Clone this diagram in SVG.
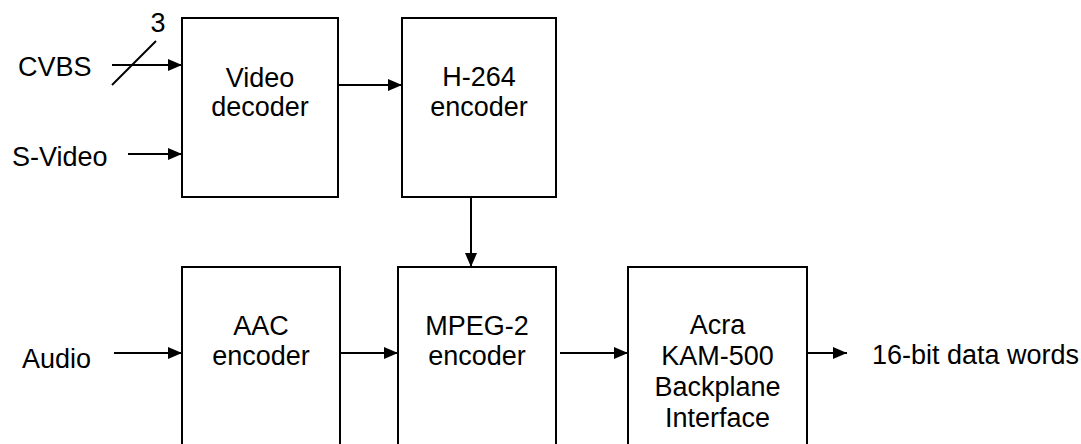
<svg xmlns="http://www.w3.org/2000/svg" width="1081" height="444" viewBox="0 0 1081 444">
<defs>
<style>
.box{fill:#fff;stroke:#000;stroke-width:2}
.t{font-family:"Liberation Sans",Arial,sans-serif;font-size:27px;fill:#000}
.c{text-anchor:middle}
.ln{stroke:#000;stroke-width:2;fill:none}
</style>
<marker id="ah" viewBox="0 0 14 12" refX="14" refY="6" markerWidth="14" markerHeight="12" markerUnits="userSpaceOnUse" orient="auto">
<path d="M0,0 L14,6 L0,12 Z" fill="#000"/>
</marker>
</defs>
<rect width="1081" height="444" fill="#fff"/>
<g id="video-decoder">
<rect class="box" x="182" y="18" width="156" height="179"/>
<text class="t c" x="260" y="87">Video</text>
<text class="t c" x="260" y="116">decoder</text>
</g>
<g id="h264-encoder">
<rect class="box" x="402" y="18" width="154" height="179"/>
<text class="t c" x="479" y="86">H-264</text>
<text class="t c" x="479" y="116">encoder</text>
</g>
<g id="aac-encoder">
<rect class="box" x="182" y="267" width="158" height="190"/>
<text class="t c" x="261" y="335">AAC</text>
<text class="t c" x="261" y="365">encoder</text>
</g>
<g id="mpeg2-encoder">
<rect class="box" x="398" y="267" width="158" height="190"/>
<text class="t c" x="477" y="335">MPEG-2</text>
<text class="t c" x="477" y="365">encoder</text>
</g>
<g id="acra">
<rect class="box" x="628" y="267" width="179" height="190"/>
<text class="t c" x="717.5" y="334">Acra</text>
<text class="t c" x="717.5" y="365">KAM-500</text>
<text class="t c" x="717.5" y="396">Backplane</text>
<text class="t c" x="717.5" y="427">Interface</text>
</g>
<g id="labels">
<text class="t" x="18" y="76">CVBS</text>
<text class="t" x="12" y="166">S-Video</text>
<text class="t" x="22" y="368">Audio</text>
<text class="t" x="872" y="364">16-bit data words</text>
<text class="t c" x="158" y="32">3</text>
</g>
<g id="connectors">
<line class="ln" x1="112" y1="65" x2="182" y2="65" marker-end="url(#ah)"/>
<line class="ln" x1="112" y1="85" x2="156" y2="41"/>
<line class="ln" x1="128" y1="154" x2="182" y2="154" marker-end="url(#ah)"/>
<line class="ln" x1="338" y1="85" x2="402" y2="85" marker-end="url(#ah)"/>
<line class="ln" x1="471" y1="197" x2="471" y2="267" marker-end="url(#ah)"/>
<line class="ln" x1="114" y1="353" x2="182" y2="353" marker-end="url(#ah)"/>
<line class="ln" x1="340" y1="353" x2="398" y2="353" marker-end="url(#ah)"/>
<line class="ln" x1="560" y1="353" x2="628" y2="353" marker-end="url(#ah)"/>
<line class="ln" x1="807" y1="353" x2="847" y2="353" marker-end="url(#ah)"/>
</g>
</svg>
